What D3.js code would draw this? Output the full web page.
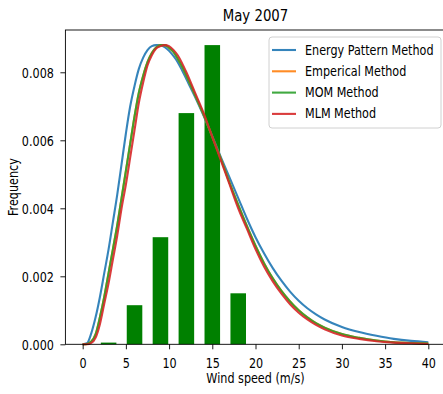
<!DOCTYPE html>
<html>
<head>
<meta charset="utf-8">
<script src="https://cdn.jsdelivr.net/npm/d3@7"></script>
<style>
  body { margin: 0; background: #fff; }
  svg { display: block; }
  text { font-family: "DejaVu Sans", sans-serif; fill: #000; }
</style>
</head>
<body>
<svg id="chart" width="443" height="394"></svg>
<script>
// Wind speed histogram for May 2007 with four fitted density curves
const chartTitle = "May 2007";
const xLabel = "Wind speed (m/s)";
const yLabel = "Frequency";

// histogram bars (bin centre in m/s, relative frequency)
const binCenters = [3, 6, 9, 12, 15, 18];
const binFreq = [0.00005, 0.00115, 0.00315, 0.0068, 0.0088, 0.0015];
const binWidth = 1.8;

// fitted density curves sampled along wind speed
const speeds = [0, 0.5, 1, 1.5, 2, 2.5, 3, 3.5, 4, 4.5, 5, 5.5, 6, 6.5, 7, 7.5, 8, 8.5, 9, 9.5,
                10, 10.5, 11, 11.5, 12, 13, 14, 15, 16, 17, 18, 19, 20, 21, 22, 23, 24, 25, 26,
                27, 28, 30, 32, 34, 36, 38, 40];
const energyPattern = [0, 0.00003, 0.00033, 0.0008, 0.0014, 0.0021, 0.0028, 0.0036, 0.0044, 0.0053,
                       0.0062, 0.007, 0.0076, 0.0081, 0.00843, 0.00865, 0.00877, 0.0088, 0.0088, 0.00874,
                       0.00863, 0.00848, 0.0083, 0.00806, 0.0078, 0.00728, 0.00672, 0.00612, 0.0055, 0.0049,
                       0.0043, 0.0037, 0.00315, 0.00267, 0.00224, 0.00187, 0.00155, 0.00128, 0.00106,
                       0.00088, 0.00073, 0.00051, 0.00036, 0.00025, 0.00016, 0.0001, 0.00006];
const empirical = [0, 0.00001, 0.00008, 0.0003, 0.0008, 0.0014, 0.0021, 0.0028, 0.0035, 0.0043,
                   0.0051, 0.0059, 0.0067, 0.0074, 0.0079, 0.0083, 0.00857, 0.00873, 0.0088, 0.0088,
                   0.00872, 0.0086, 0.0084, 0.00817, 0.0079, 0.00733, 0.00675, 0.0061, 0.00545, 0.00475,
                   0.0041, 0.00348, 0.0029, 0.00238, 0.00194, 0.00157, 0.00126, 0.001, 0.00079,
                   0.00062, 0.00049, 0.0003, 0.00019, 0.00011, 0.00006, 0.00004, 0.00002];
const mom = [0, 0.00001, 0.00008, 0.0003, 0.0008, 0.0014, 0.0021, 0.0028, 0.0035, 0.0043,
             0.0051, 0.0059, 0.0067, 0.0074, 0.0079, 0.0083, 0.00857, 0.00873, 0.0088, 0.0088,
             0.00872, 0.0086, 0.0084, 0.00817, 0.0079, 0.00733, 0.00675, 0.0061, 0.00545, 0.00475,
             0.0041, 0.00348, 0.0029, 0.00238, 0.00194, 0.00157, 0.00126, 0.001, 0.00079,
             0.00062, 0.00049, 0.0003, 0.00019, 0.00011, 0.00006, 0.00004, 0.00002];
const mlm = [0, 0, 0.00004, 0.0002, 0.0006, 0.0012, 0.0018, 0.0025, 0.0032, 0.004,
             0.0047, 0.0055, 0.0063, 0.0071, 0.0077, 0.0082, 0.0085, 0.0087, 0.00877, 0.0088,
             0.00877, 0.00866, 0.0085, 0.00827, 0.008, 0.0074, 0.0068, 0.0061, 0.0054, 0.0047,
             0.004, 0.0034, 0.0028, 0.00228, 0.00185, 0.00149, 0.00118, 0.00093, 0.00073,
             0.00057, 0.00044, 0.00026, 0.00016, 0.00009, 0.00005, 0.00003, 0.00001];

const methodNames = ["Energy Pattern Method", "Emperical Method", "MOM Method", "MLM Method"];
const methodSeries = [energyPattern, empirical, mom, mlm];
const methodColors = ["#1f77b4", "#ff7f0e", "#2ca02c", "#d62728"];

const xTicks = [0, 5, 10, 15, 20, 25, 30, 35, 40];
const yTicks = [0, 0.002, 0.004, 0.006, 0.008];

const svg = d3.select("#chart");
const plot = { left: 65.4, right: 445.6, top: 30, bottom: 344.3 };
const FONT = 11.2;     // base text size
const TALL = 1.2;      // glyphs are drawn slightly taller than wide

// place a text at (px, py) baseline, stretched vertically
function placeText(sel, px, py) {
  sel.attr("x", null).attr("y", null).attr("dy", null)
     .attr("transform", `translate(${px},${py}) scale(1,${TALL})`);
}

const x = d3.scaleLinear().domain([-2, 42]).range([plot.left, plot.right]);
const y = d3.scaleLinear().domain([0, 0.009244]).range([plot.bottom, plot.top]);

// bars
svg.append("g")
  .selectAll("rect")
  .data(binCenters.map((c, i) => ({ c, f: binFreq[i] })))
  .join("rect")
  .attr("x", d => x(d.c - binWidth / 2))
  .attr("width", d => x(d.c + binWidth / 2) - x(d.c - binWidth / 2))
  .attr("y", d => y(d.f))
  .attr("height", d => y(0) - y(d.f))
  .attr("fill", "#008000");

// density curves
const line = d3.line()
  .x(d => x(d[0]))
  .y(d => y(d[1]))
  .curve(d3.curveMonotoneX);

svg.append("g")
  .selectAll("path")
  .data(methodSeries)
  .join("path")
  .attr("d", s => line(speeds.map((v, i) => [v, s[i]])))
  .attr("fill", "none")
  .attr("stroke", (s, i) => methodColors[i])
  .attr("stroke-width", 2.1)
  .attr("stroke-opacity", 0.9)
  .attr("stroke-linejoin", "round");

// axes
const xAxis = svg.append("g")
  .attr("transform", `translate(0,${plot.bottom})`)
  .call(d3.axisBottom(x).tickValues(xTicks).tickFormat(d3.format("d"))
    .tickSize(5).tickSizeOuter(0));
const yAxis = svg.append("g")
  .attr("transform", `translate(${plot.left},0)`)
  .call(d3.axisLeft(y).tickValues(yTicks).tickFormat(d3.format(".3f"))
    .tickSize(5).tickSizeOuter(0));

[xAxis, yAxis].forEach(g => {
  g.selectAll("text").style("font-size", FONT + "px").style("font-family", "DejaVu Sans, sans-serif");
  g.selectAll("line").attr("stroke", "#000").attr("stroke-width", 0.9);
  g.select(".domain").remove();
});
xAxis.selectAll(".tick text").each(function () { placeText(d3.select(this), 0, 23.4); });
yAxis.selectAll(".tick text").each(function () { placeText(d3.select(this), -11.5, 4.9); });

// frame
svg.append("rect")
  .attr("x", plot.left).attr("y", plot.top)
  .attr("width", plot.right - plot.left).attr("height", plot.bottom - plot.top)
  .attr("fill", "none").attr("stroke", "#000").attr("stroke-width", 0.9);

// titles
svg.append("text")
  .attr("text-anchor", "middle").style("font-size", "13.3px")
  .call(placeText, (plot.left + plot.right) / 2, 21)
  .text(chartTitle);
svg.append("text")
  .attr("text-anchor", "middle").style("font-size", FONT + "px")
  .call(placeText, (plot.left + plot.right) / 2, 382.5)
  .text(xLabel);
svg.append("text")
  .attr("transform", `translate(17.6,${(plot.top + plot.bottom) / 2}) rotate(-90) scale(1,${TALL})`)
  .attr("text-anchor", "middle").style("font-size", FONT + "px")
  .text(yLabel);

// legend
const legend = svg.append("g");
legend.append("rect")
  .attr("x", 269).attr("y", 37).attr("width", 172).attr("height", 91)
  .attr("rx", 3)
  .attr("fill", "#fff").attr("fill-opacity", 0.8)
  .attr("stroke", "#d0d0d0").attr("stroke-width", 1);
const rows = legend.selectAll("g.row")
  .data(methodNames)
  .join("g")
  .attr("class", "row")
  .attr("transform", (d, i) => `translate(0,${50 + i * 21.3})`);
rows.append("line")
  .attr("x1", 272).attr("x2", 296)
  .attr("stroke", (d, i) => methodColors[i])
  .attr("stroke-width", 2.1).attr("stroke-opacity", 0.9);
rows.append("text")
  .style("font-size", FONT + "px")
  .call(placeText, 305, 4.5)
  .text(d => d);
</script>
</body>
</html>
